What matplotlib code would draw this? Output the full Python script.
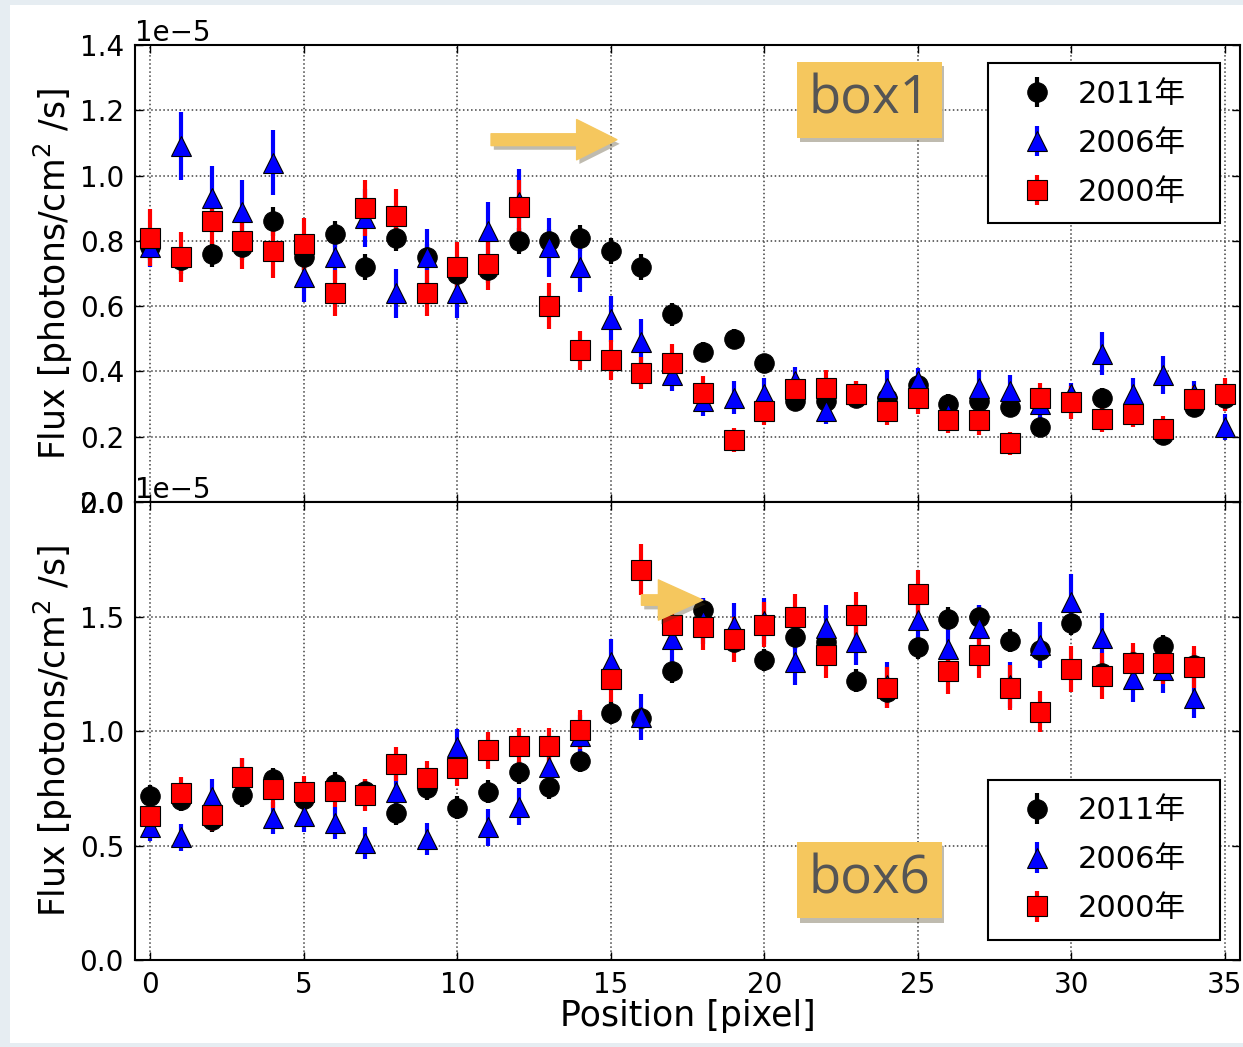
import matplotlib.pyplot as plt
import matplotlib.patheffects as pe
from matplotlib.patches import FancyArrowPatch, Rectangle

# Posiciones (pixel)
pos_box1 = list(range(36))
pos_box6 = list(range(35))

# box1: flujo (x1e-5) y errores
flux1_2011 = [0.78, 0.74, 0.76, 0.78, 0.86, 0.75, 0.82, 0.72, 0.81, 0.75, 0.70, 0.71,
              0.80, 0.80, 0.81, 0.77, 0.72, 0.575, 0.46, 0.50, 0.425, 0.31, 0.31, 0.32,
              0.32, 0.36, 0.30, 0.31, 0.29, 0.23, 0.31, 0.32, 0.27, 0.205, 0.29, 0.32]
flux1_2006 = [0.78, 1.09, 0.93, 0.89, 1.04, 0.69, 0.75, 0.87, 0.64, 0.75, 0.64, 0.83,
              0.92, 0.78, 0.72, 0.56, 0.49, 0.39, 0.31, 0.32, 0.33, 0.37, 0.28, 0.33,
              0.35, 0.37, 0.27, 0.35, 0.34, 0.30, 0.33, 0.455, 0.33, 0.39, 0.33, 0.23]
flux1_2000 = [0.81, 0.75, 0.86, 0.80, 0.77, 0.79, 0.64, 0.90, 0.875, 0.64, 0.72, 0.73,
              0.905, 0.60, 0.465, 0.435, 0.395, 0.425, 0.335, 0.19, 0.28, 0.345, 0.35, 0.33,
              0.28, 0.32, 0.25, 0.25, 0.18, 0.32, 0.305, 0.255, 0.27, 0.225, 0.315, 0.33]
err1_2011 = [0.04, 0.04, 0.04, 0.04, 0.045, 0.04, 0.04, 0.04, 0.04, 0.04, 0.04, 0.04,
             0.04, 0.035, 0.04, 0.04, 0.04, 0.035, 0.03, 0.03, 0.03, 0.03, 0.03, 0.03,
             0.03, 0.03, 0.03, 0.03, 0.03, 0.03, 0.03, 0.03, 0.03, 0.03, 0.03, 0.03]
err1_2006 = [0.06, 0.105, 0.10, 0.095, 0.10, 0.077, 0.07, 0.09, 0.075, 0.085, 0.075, 0.09,
             0.10, 0.09, 0.077, 0.07, 0.07, 0.05, 0.045, 0.05, 0.05, 0.045, 0.04, 0.04,
             0.055, 0.04, 0.04, 0.055, 0.05, 0.05, 0.035, 0.067, 0.05, 0.058, 0.04, 0.04]
err1_2000 = [0.087, 0.077, 0.07, 0.085, 0.085, 0.08, 0.07, 0.085, 0.085, 0.07, 0.077, 0.08,
             0.08, 0.07, 0.06, 0.06, 0.05, 0.06, 0.05, 0.037, 0.045, 0.045, 0.055, 0.04,
             0.045, 0.05, 0.04, 0.045, 0.035, 0.045, 0.05, 0.04, 0.04, 0.04, 0.04, 0.05]

# box6: flujo (x1e-5) y errores
flux6_2011 = [0.715, 0.70, 0.61, 0.72, 0.79, 0.705, 0.77, 0.74, 0.64, 0.75, 0.665, 0.735,
              0.82, 0.755, 0.87, 1.08, 1.055, 1.26, 1.53, 1.39, 1.31, 1.41, 1.39, 1.22,
              1.17, 1.365, 1.49, 1.50, 1.395, 1.355, 1.47, 1.255, 1.30, 1.37, 1.29]
flux6_2006 = [0.58, 0.535, 0.71, 0.80, 0.62, 0.63, 0.60, 0.51, 0.735, 0.53, 0.93, 0.58,
              0.67, 0.845, 0.98, 1.30, 1.06, 1.40, 1.48, 1.46, 1.48, 1.30, 1.45, 1.39,
              1.20, 1.485, 1.36, 1.45, 1.20, 1.375, 1.565, 1.405, 1.225, 1.265, 1.145]
flux6_2000 = [0.63, 0.73, 0.635, 0.80, 0.745, 0.735, 0.74, 0.72, 0.855, 0.795, 0.84, 0.915,
              0.935, 0.935, 1.005, 1.225, 1.705, 1.465, 1.455, 1.40, 1.465, 1.50, 1.33, 1.505,
              1.19, 1.60, 1.26, 1.33, 1.19, 1.085, 1.27, 1.24, 1.295, 1.295, 1.28]
err6_2011 = [0.05] * 35
err6_2006 = [0.06, 0.06, 0.08, 0.08, 0.07, 0.07, 0.07, 0.07, 0.08, 0.07, 0.08, 0.08,
             0.08, 0.08, 0.09, 0.10, 0.10, 0.10, 0.10, 0.10, 0.10, 0.10, 0.10, 0.10,
             0.10, 0.10, 0.10, 0.10, 0.10, 0.10, 0.12, 0.11, 0.10, 0.10, 0.09]
err6_2000 = [0.07, 0.07, 0.07, 0.08, 0.08, 0.07, 0.07, 0.07, 0.075, 0.075, 0.08, 0.08,
             0.08, 0.08, 0.085, 0.10, 0.11, 0.10, 0.10, 0.10, 0.10, 0.10, 0.10, 0.10,
             0.09, 0.105, 0.10, 0.10, 0.10, 0.09, 0.10, 0.10, 0.09, 0.09, 0.09]

years = ['2011年', '2006年', '2000年']
scale = 1e-5

plt.rcParams['font.size'] = 20
plt.rcParams['axes.labelsize'] = 25
legend_font = {'family': ['DejaVu Sans', 'Noto Sans CJK JP'], 'size': 22}

fig = plt.figure(figsize=(12.43, 10.47), dpi=100, facecolor='#e6edf2')
fig.patches.append(Rectangle((0.008, 0.004), 0.992, 0.991, transform=fig.transFigure,
                             facecolor='white', edgecolor='none', zorder=-1))
ax1 = fig.add_axes([0.1086, 0.5205, 0.889, 0.4365])
ax2 = fig.add_axes([0.1086, 0.0831, 0.889, 0.4374], sharex=ax1)


def draw_panel(ax, pos, f11, e11, f06, e06, f00, e00):
    style = dict(linestyle='none', markersize=14, elinewidth=3, capsize=0,
                 markeredgecolor='k', markeredgewidth=0.8)
    ax.errorbar(pos, [v * scale for v in f11], yerr=[v * scale for v in e11],
                fmt='o', color='k', ecolor='k', label=years[0], **style)
    ax.errorbar(pos, [v * scale for v in f06], yerr=[v * scale for v in e06],
                fmt='^', color='#0000ff', ecolor='#0000ff', label=years[1], **style)
    ax.errorbar(pos, [v * scale for v in f00], yerr=[v * scale for v in e00],
                fmt='s', color='#ff0000', ecolor='#ff0000', label=years[2], **style)
    ax.grid(True, linestyle=':', color='0.25', linewidth=1.1)
    ax.tick_params(direction='in', top=True, right=True, length=6, width=1, pad=8)
    for s in ax.spines.values():
        s.set_linewidth(1.5)
    ax.set_ylabel('Flux [photons/cm$^2$ /s]', labelpad=3)


draw_panel(ax1, pos_box1, flux1_2011, err1_2011, flux1_2006, err1_2006, flux1_2000, err1_2000)
draw_panel(ax2, pos_box6, flux6_2011, err6_2011, flux6_2006, err6_2006, flux6_2000, err6_2000)

ax1.set_xlim(-0.5, 35.5)
ax1.set_xticks(range(0, 36, 5))
ax1.set_ylim(0, 1.4e-5)
ax1.set_yticks([i * 0.2e-5 for i in range(8)])
ax2.set_ylim(0, 2.0e-5)
ax2.set_yticks([i * 0.5e-5 for i in range(5)])
plt.setp(ax1.get_xticklabels(), visible=False)
ax2.set_xlabel('Position [pixel]', labelpad=0)

# leyendas con ancho fijo
leg_opts = dict(borderaxespad=0, numpoints=1, prop=legend_font, fancybox=False,
                framealpha=1, handletextpad=0.3, labelspacing=0.65, borderpad=0.55,
                handlelength=2.1, mode='expand')
leg1 = ax1.legend(loc='upper left', bbox_to_anchor=(0.772, 0.0, 0.21, 0.9606), **leg_opts)
leg2 = ax2.legend(loc='lower left', bbox_to_anchor=(0.772, 0.0437, 0.21, 0.9), **leg_opts)
for leg in (leg1, leg2):
    leg.get_frame().set_edgecolor('k')
    leg.get_frame().set_linewidth(1.5)

# etiquetas de caja y flechas
shadow = [pe.SimplePatchShadow(offset=(2, -3), alpha=0.35), pe.Normal()]
box_style = dict(boxstyle='square,pad=0.22', facecolor='#f5c75e', edgecolor='none')
for ax, name, ypos in ((ax1, 'box1', 1.232e-5), (ax2, 'box6', 0.349e-5)):
    t = ax.text(23.42, ypos, name, ha='center', va='center', fontsize=38,
                family='Open Sans', color='#555555', bbox=box_style, zorder=5)
    t.get_bbox_patch().set_path_effects(shadow)

arrow1 = FancyArrowPatch((11.1, 1.11e-5), (15.2, 1.11e-5), shrinkA=0, shrinkB=0,
                         arrowstyle='simple,head_length=29,head_width=29,tail_width=8.5',
                         color='#f5c75e', zorder=6)
arrow2 = FancyArrowPatch((16.0, 1.572e-5), (18.0, 1.572e-5), shrinkA=0, shrinkB=0,
                         arrowstyle='simple,head_length=32,head_width=29,tail_width=7.5',
                         color='#f5c75e', zorder=6)
for ax, arr in ((ax1, arrow1), (ax2, arrow2)):
    arr.set_path_effects(shadow)
    ax.add_patch(arr)

fig.savefig('out.png', dpi=100, facecolor=fig.get_facecolor())
